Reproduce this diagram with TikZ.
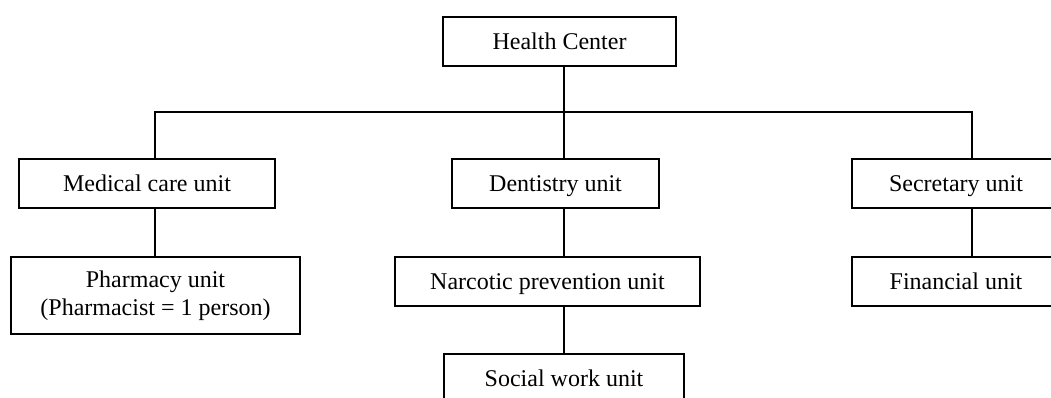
\documentclass[tikz,border=0pt]{standalone}
\usepackage{fontspec}
\setmainfont{Liberation Serif}
\begin{document}
\begin{tikzpicture}[x=1pt,y=-1pt,
  boxbase/.style={draw=black,line width=1.4pt,fill=white,inner sep=0pt,
    minimum height=49pt,align=center,
    font=\fontsize{24}{28}\selectfont},
  unitbox/.style={boxbase,text height=21pt,text depth=5pt},
  link/.style={line width=1.4pt,draw=black}]
\useasboundingbox (0,0) rectangle (1051,398);

% boxes
\node[unitbox,minimum width=233pt] (hc)   at (559.5,41.5)  {Health Center};
\node[unitbox,minimum width=256pt] (med)  at (147,183.5)   {Medical care unit};
\node[unitbox,minimum width=207pt] (dent) at (555.5,183.5) {Dentistry unit};
\node[unitbox,minimum width=208pt] (sec)  at (956,183.5)   {Secretary unit};
\node[boxbase,minimum width=289pt,minimum height=77pt] (pha) at (155.5,295.5)
  {Pharmacy unit\\(Pharmacist = 1 person)};
\node[unitbox,minimum width=305pt] (narc) at (547.5,281.5) {Narcotic prevention unit};
\node[unitbox,minimum width=208pt] (fin)  at (956,281.5)   {Financial unit};
\node[unitbox,minimum width=240pt] (soc)  at (564,378.5)   {Social work unit};

% branch lines
\coordinate (lx) at (155,0);
\coordinate (tx) at (564,0);
\coordinate (rx) at (972,0);
\coordinate (bus) at (0,112);

\draw[link] (hc.south -| tx) -- (tx |- bus);
\draw[link] (med.north -| lx) -- (lx |- bus) -- (rx |- bus) -- (sec.north -| rx);
\draw[link] (tx |- bus) -- (dent.north -| tx);
\draw[link] (med.south -| lx) -- (pha.north -| lx);
\draw[link] (dent.south -| tx) -- (narc.north -| tx);
\draw[link] (narc.south -| tx) -- (soc.north -| tx);
\draw[link] (sec.south -| rx) -- (fin.north -| rx);
\end{tikzpicture}
\end{document}
